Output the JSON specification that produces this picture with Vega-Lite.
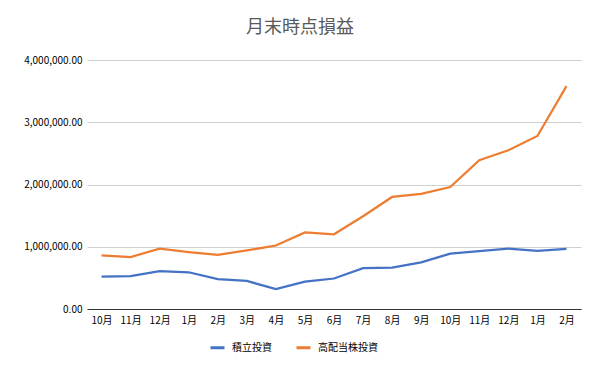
{
  "$schema": "https://vega.github.io/schema/vega-lite/v6.json",
  "width": 494,
  "height": 249,
  "autosize": "none",
  "padding": {"left": 87, "top": 60, "right": 19, "bottom": 62},
  "background": "white",
  "title": {
    "text": "月末時点損益",
    "font": "Noto Sans CJK JP",
    "fontSize": 18,
    "fontWeight": "normal",
    "color": "#595959",
    "anchor": "middle",
    "frame": "group",
    "dx": -34,
    "offset": 18
  },
  "data": {
    "values": [
      {"m": "2022-10", "s": "積立投資", "v": 520000},
      {"m": "2022-11", "s": "積立投資", "v": 530000},
      {"m": "2022-12", "s": "積立投資", "v": 610000},
      {"m": "2023-01", "s": "積立投資", "v": 590000},
      {"m": "2023-02", "s": "積立投資", "v": 480000},
      {"m": "2023-03", "s": "積立投資", "v": 450000},
      {"m": "2023-04", "s": "積立投資", "v": 320000},
      {"m": "2023-05", "s": "積立投資", "v": 440000},
      {"m": "2023-06", "s": "積立投資", "v": 490000},
      {"m": "2023-07", "s": "積立投資", "v": 655000},
      {"m": "2023-08", "s": "積立投資", "v": 665000},
      {"m": "2023-09", "s": "積立投資", "v": 750000},
      {"m": "2023-10", "s": "積立投資", "v": 890000},
      {"m": "2023-11", "s": "積立投資", "v": 930000},
      {"m": "2023-12", "s": "積立投資", "v": 970000},
      {"m": "2024-01", "s": "積立投資", "v": 935000},
      {"m": "2024-02", "s": "積立投資", "v": 965000},
      {"m": "2022-10", "s": "高配当株投資", "v": 860000},
      {"m": "2022-11", "s": "高配当株投資", "v": 835000},
      {"m": "2022-12", "s": "高配当株投資", "v": 970000},
      {"m": "2023-01", "s": "高配当株投資", "v": 915000},
      {"m": "2023-02", "s": "高配当株投資", "v": 870000},
      {"m": "2023-03", "s": "高配当株投資", "v": 940000},
      {"m": "2023-04", "s": "高配当株投資", "v": 1020000},
      {"m": "2023-05", "s": "高配当株投資", "v": 1230000},
      {"m": "2023-06", "s": "高配当株投資", "v": 1200000},
      {"m": "2023-07", "s": "高配当株投資", "v": 1490000},
      {"m": "2023-08", "s": "高配当株投資", "v": 1800000},
      {"m": "2023-09", "s": "高配当株投資", "v": 1850000},
      {"m": "2023-10", "s": "高配当株投資", "v": 1960000},
      {"m": "2023-11", "s": "高配当株投資", "v": 2390000},
      {"m": "2023-12", "s": "高配当株投資", "v": 2550000},
      {"m": "2024-01", "s": "高配当株投資", "v": 2780000},
      {"m": "2024-02", "s": "高配当株投資", "v": 3580000}
    ]
  },
  "mark": {"type": "line", "strokeWidth": 2.25, "interpolate": "linear"},
  "encoding": {
    "x": {
      "field": "m",
      "type": "ordinal",
      "sort": null,
      "scale": {"type": "point", "padding": 0.5},
      "axis": {
        "title": null,
        "labelAngle": 0,
        "labelExpr": "toNumber(slice(datum.value, 5)) + '月'",
        "ticks": false,
        "domainColor": "#333333",
        "domainWidth": 1,
        "labelPadding": 6,
        "labelFont": "Noto Sans CJK JP",
        "labelFontSize": 10,
        "labelColor": "#000000",
        "grid": false
      }
    },
    "y": {
      "field": "v",
      "type": "quantitative",
      "scale": {"domain": [0, 4000000], "nice": false},
      "axis": {
        "title": null,
        "values": [0, 1000000, 2000000, 3000000, 4000000],
        "format": ",.2f",
        "domain": false,
        "ticks": false,
        "labelPadding": 5,
        "labelFont": "Noto Sans CJK JP",
        "labelFontSize": 10,
        "labelColor": "#000000",
        "gridColor": "#d0d0d0",
        "gridWidth": 1
      }
    },
    "color": {
      "field": "s",
      "type": "nominal",
      "sort": ["積立投資", "高配当株投資"],
      "scale": {"domain": ["積立投資", "高配当株投資"], "range": ["#4472C4", "#ED7D31"]},
      "legend": {
        "title": null,
        "orient": "none",
        "legendX": 122,
        "legendY": 279,
        "direction": "horizontal",
        "symbolType": "stroke",
        "symbolStrokeWidth": 3,
        "symbolSize": 196,
        "labelFont": "Noto Sans CJK JP",
        "labelFontSize": 10,
        "labelColor": "#000000",
        "columnPadding": 18,
        "labelOffset": 6
      }
    }
  },
  "config": {"view": {"stroke": null}}
}
